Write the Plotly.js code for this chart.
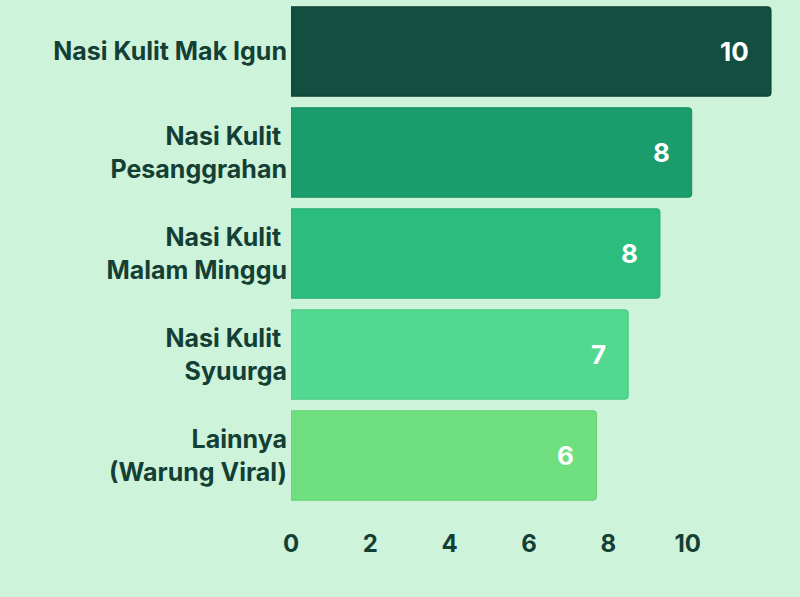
<!DOCTYPE html>
<html>
<head>
<meta charset="utf-8">
<script src="https://cdn.plot.ly/plotly-3.0.1.min.js"></script>
<style>
html,body{margin:0;padding:0;background:#cdf3da;}
#chart{width:800px;height:597px;}
</style>
</head>
<body>
<div id="chart"></div>
<script>
const categories = [
  "Nasi Kulit Mak Igun",
  "Nasi Kulit <br>Pesanggrahan",
  "Nasi Kulit <br>Malam Minggu",
  "Nasi Kulit <br>Syuurga",
  "Lainnya<br>(Warung Viral)"
];
const values = [12.1, 10.1, 9.3, 8.5, 7.7];
const valueLabels = ["10", "8", "8", "7", "6"];
const barColors = ["#124f41", "#1a9c6d", "#2bbd7e", "#52d88f", "#6fdf80"];
const lineColors = ["#0d3f33", "#168a5f", "#25ab71", "#4ac982", "#63d173"];
const tickVals = [0, 2, 4, 6, 8, 10];

const textColor = "#143f35";
const font = "Inter, Roboto, 'Noto Sans', sans-serif";

const trace = {
  type: "bar",
  orientation: "h",
  y: categories,
  x: values,
  marker: {color: barColors, line: {color: lineColors, width: 1}, cornerradius: 3},
  hoverinfo: "none"
};

const annotations = values.map((v, i) => ({
  x: v, y: categories[i], xref: "x", yref: "y",
  text: valueLabels[i], showarrow: false,
  xanchor: "right", xshift: -20,
  font: {family: font, size: 26, color: "#ffffff", weight: 700}
}));

const layout = {
  width: 800, height: 597,
  paper_bgcolor: "#cdf3da",
  plot_bgcolor: "#cdf3da",
  margin: {l: 291, r: 25, t: 1, b: 91},
  bargap: 0.115,
  showlegend: false,
  xaxis: {
    range: [0, 12.2],
    tickvals: tickVals,
    showgrid: false, zeroline: false, showline: false,
    ticks: "",
    ticklabelstandoff: 21,
    tickfont: {family: font, size: 24, color: textColor, weight: 700},
    fixedrange: true
  },
  yaxis: {
    autorange: "reversed",
    showgrid: false, zeroline: false, showline: false,
    ticks: "",
    ticklabelstandoff: 3,
    tickfont: {family: font, size: 25, color: textColor, weight: 700},
    fixedrange: true
  },
  annotations: annotations
};

Plotly.newPlot("chart", [trace], layout, {displayModeBar: false, staticPlot: true});
</script>
</body>
</html>
